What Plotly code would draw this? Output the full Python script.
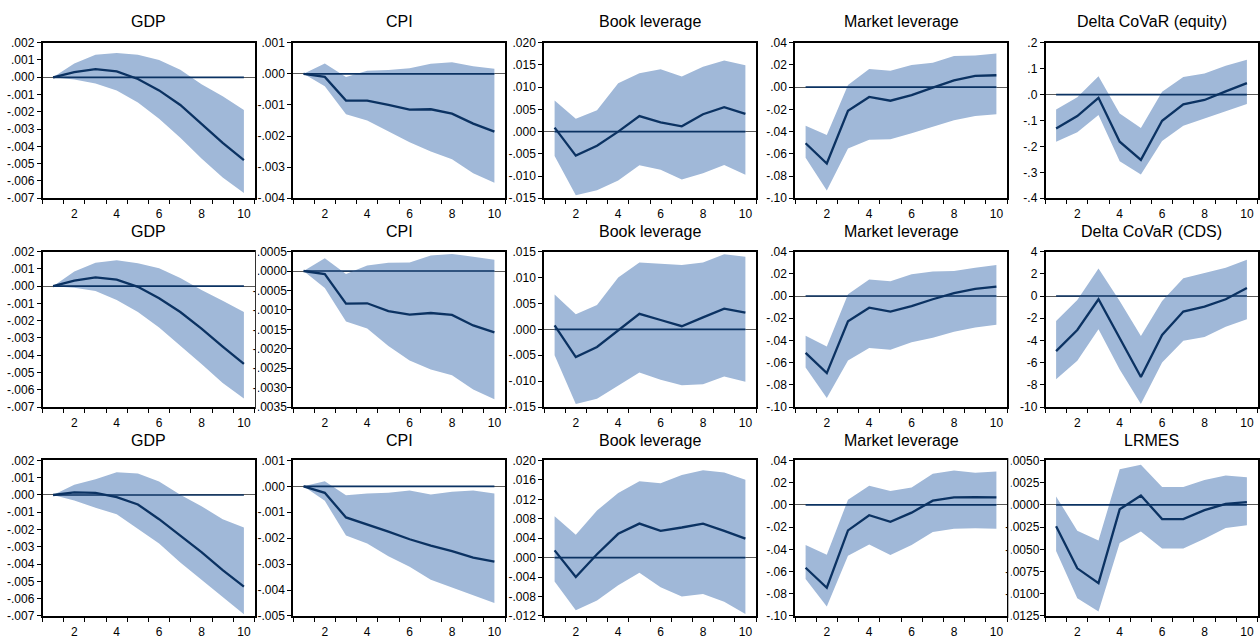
import plotly.graph_objects as go

# Forecast horizon (periods after the shock)
periods = list(range(1, 11))
baseline = [0.0] * len(periods)
x_tick_vals = [2, 4, 6, 8, 10]
x_tick_text = ["2", "4", "6", "8", "10"]
x_minor_vals = [0.5, 1.5, 2.5, 3.5, 4.5, 5.5, 6.5, 7.5, 8.5, 9.5, 10.5]

# ---- Row 1: Delta CoVaR (equity) system ----
gdp1_irf = [0.0, 0.0003, 0.00047, 0.00034, -0.0001, -0.00076, -0.0016, -0.0027, -0.0038, -0.0048]
gdp1_hi = [0.0, 0.0008, 0.0013, 0.0014, 0.0013, 0.0010, 0.00044, -0.0004, -0.0011, -0.0019]
gdp1_lo = [0.0, -0.00013, -0.00036, -0.00076, -0.00146, -0.0024, -0.0035, -0.0047, -0.0058, -0.0067]

cpi1_irf = [0.0, -0.0001, -0.00086, -0.00086, -0.0010, -0.00115, -0.00114, -0.00128, -0.0016, -0.00186]
cpi1_hi = [0.0, 0.00033, -0.0001, 0.0001, 0.00012, 0.00018, 0.00032, 0.00037, 0.00024, 0.00016]
cpi1_lo = [0.0, -0.0004, -0.0013, -0.0015, -0.00186, -0.0022, -0.0025, -0.00275, -0.0032, -0.0035]

book1_irf = [0.0009, -0.0054, -0.0032, 0.0, 0.0035, 0.0021, 0.0012, 0.0039, 0.0055, 0.0040]
book1_hi = [0.0070, 0.0029, 0.0048, 0.0109, 0.0131, 0.0140, 0.0124, 0.0146, 0.0160, 0.0149]
book1_lo = [-0.0055, -0.0143, -0.0132, -0.0110, -0.0076, -0.0086, -0.0108, -0.0094, -0.0075, -0.0097]

mkt1_irf = [-0.0505, -0.0687, -0.0213, -0.0088, -0.0122, -0.0072, -0.0004, 0.0060, 0.0101, 0.0107]
mkt1_hi = [-0.0348, -0.0430, 0.0019, 0.0163, 0.0148, 0.0200, 0.0220, 0.0280, 0.0284, 0.0304]
mkt1_lo = [-0.0636, -0.0930, -0.0553, -0.0474, -0.0468, -0.0416, -0.0360, -0.0298, -0.0260, -0.0245]

dcv_eq_irf = [-0.131, -0.083, -0.0125, -0.182, -0.252, -0.101, -0.038, -0.021, 0.0125, 0.044]
dcv_eq_hi = [-0.058, -0.010, 0.071, -0.073, -0.129, 0.011, 0.068, 0.081, 0.111, 0.134]
dcv_eq_lo = [-0.182, -0.145, -0.079, -0.257, -0.308, -0.179, -0.120, -0.091, -0.064, -0.036]

# ---- Row 2: Delta CoVaR (CDS) system ----
gdp2_irf = [0.0, 0.00032, 0.00051, 0.00038, -0.00004, -0.0007, -0.0015, -0.00246, -0.0035, -0.0045]
gdp2_hi = [0.0, 0.00085, 0.00136, 0.0015, 0.00133, 0.00104, 0.00047, -0.00023, -0.00085, -0.0015]
gdp2_lo = [0.0, -0.0001, -0.00028, -0.0008, -0.0015, -0.0024, -0.00345, -0.0045, -0.0056, -0.0065]

cpi2_irf = [0.0, -0.00008, -0.00084, -0.00083, -0.00103, -0.00112, -0.00108, -0.00113, -0.0014, -0.00158]
cpi2_hi = [0.0, 0.00033, -0.00008, 0.00014, 0.00021, 0.00022, 0.0004, 0.00044, 0.00037, 0.00029]
cpi2_lo = [0.0, -0.00044, -0.0013, -0.00148, -0.00193, -0.0023, -0.00253, -0.00268, -0.00305, -0.0033]

book2_irf = [0.00076, -0.00536, -0.0034, -0.0002, 0.0030, 0.0018, 0.0006, 0.0023, 0.0040, 0.0032]
book2_hi = [0.0067, 0.0029, 0.0047, 0.0100, 0.0129, 0.0127, 0.0124, 0.0129, 0.0145, 0.0140]
book2_lo = [-0.0050, -0.0144, -0.0134, -0.0109, -0.0083, -0.0097, -0.0108, -0.0106, -0.0091, -0.0101]

mkt2_irf = [-0.0512, -0.0694, -0.0228, -0.0105, -0.0140, -0.0091, -0.0029, 0.0026, 0.0064, 0.0085]
mkt2_hi = [-0.0357, -0.0454, 0.0015, 0.0149, 0.0132, 0.0196, 0.0220, 0.0225, 0.0255, 0.0278]
mkt2_lo = [-0.0644, -0.0917, -0.0580, -0.0469, -0.0483, -0.0416, -0.0375, -0.0322, -0.0284, -0.0258]

dcv_cds_irf = [-4.96, -3.06, -0.29, -3.79, -7.29, -3.5, -1.4, -0.96, -0.29, 0.73]
dcv_cds_hi = [-2.24, -0.35, 2.48, -0.44, -3.59, -0.44, 1.6, 2.1, 2.54, 3.27]
dcv_cds_lo = [-7.49, -5.83, -3.0, -6.62, -9.71, -5.98, -4.02, -3.7, -2.77, -2.1]

# ---- Row 3: LRMES system ----
gdp3_irf = [0.0, 0.00015, 0.00012, -0.00012, -0.00055, -0.0014, -0.00235, -0.0033, -0.00435, -0.0053]
gdp3_hi = [0.0, 0.00059, 0.00091, 0.00131, 0.00125, 0.00078, 0.00002, -0.00065, -0.0014, -0.00188]
gdp3_lo = [0.0, -0.00032, -0.00074, -0.00112, -0.00197, -0.0028, -0.0039, -0.0049, -0.0059, -0.0069]

cpi3_irf = [0.0, -0.00025, -0.0012, -0.00146, -0.00175, -0.00204, -0.00229, -0.0025, -0.00275, -0.0029]
cpi3_hi = [0.0, 0.0002, -0.00034, -0.00028, -0.00025, -0.00016, -0.00031, -0.00021, -0.00016, -0.00028]
cpi3_lo = [0.0, -0.00056, -0.0019, -0.0022, -0.0027, -0.0031, -0.0036, -0.0039, -0.0042, -0.0045]

book3_irf = [0.0015, -0.0040, 0.0007, 0.0049, 0.0070, 0.0055, 0.0062, 0.0070, 0.0055, 0.0039]
book3_hi = [0.0085, 0.0047, 0.0097, 0.0133, 0.0157, 0.0153, 0.0170, 0.0180, 0.0175, 0.0160]
book3_lo = [-0.0049, -0.0108, -0.0088, -0.0057, -0.0031, -0.0061, -0.0080, -0.0075, -0.0091, -0.0116]

mkt3_irf = [-0.0566, -0.0746, -0.0230, -0.0093, -0.0152, -0.0070, 0.0038, 0.0067, 0.0070, 0.0067]
mkt3_hi = [-0.0361, -0.0449, 0.0047, 0.0172, 0.0125, 0.0157, 0.0280, 0.0309, 0.0289, 0.0300]
mkt3_lo = [-0.0668, -0.0915, -0.0458, -0.0356, -0.0452, -0.0361, -0.0245, -0.0216, -0.0210, -0.0216]

lrmes_irf = [-0.0024, -0.00714, -0.0088, -0.0005, 0.00106, -0.0016, -0.0016, -0.0006, 0.0001, 0.0003]
lrmes_hi = [0.00095, -0.0029, -0.0040, 0.0040, 0.0045, 0.0020, 0.0020, 0.0028, 0.0033, 0.0031]
lrmes_lo = [-0.0052, -0.0105, -0.0120, -0.0043, -0.0030, -0.0049, -0.0049, -0.0038, -0.0026, -0.0023]

# ---- Y-axis ticks ----
gdp_yvals = [0.002, 0.001, 0.0, -0.001, -0.002, -0.003, -0.004, -0.005, -0.006, -0.007]
gdp_ytext = [".002", ".001", ".000", "-.001", "-.002", "-.003", "-.004", "-.005", "-.006", "-.007"]
cpi1_yvals = [0.001, 0.0, -0.001, -0.002, -0.003, -0.004]
cpi1_ytext = [".001", ".000", "-.001", "-.002", "-.003", "-.004"]
cpi2_yvals = [0.0005, 0.0, -0.0005, -0.001, -0.0015, -0.002, -0.0025, -0.003, -0.0035]
cpi2_ytext = [".0005", ".0000", "-.0005", "-.0010", "-.0015", "-.0020", "-.0025", "-.0030", "-.0035"]
cpi3_yvals = [0.001, 0.0, -0.001, -0.002, -0.003, -0.004, -0.005]
cpi3_ytext = [".001", ".000", "-.001", "-.002", "-.003", "-.004", "-.005"]
book1_yvals = [0.02, 0.015, 0.01, 0.005, 0.0, -0.005, -0.01, -0.015]
book1_ytext = [".020", ".015", ".010", ".005", ".000", "-.005", "-.010", "-.015"]
book2_yvals = [0.015, 0.01, 0.005, 0.0, -0.005, -0.01, -0.015]
book2_ytext = [".015", ".010", ".005", ".000", "-.005", "-.010", "-.015"]
book3_yvals = [0.02, 0.016, 0.012, 0.008, 0.004, 0.0, -0.004, -0.008, -0.012]
book3_ytext = [".020", ".016", ".012", ".008", ".004", ".000", "-.004", "-.008", "-.012"]
mkt_yvals = [0.04, 0.02, 0.0, -0.02, -0.04, -0.06, -0.08, -0.10]
mkt_ytext = [".04", ".02", ".00", "-.02", "-.04", "-.06", "-.08", "-.10"]
dcv_eq_yvals = [0.2, 0.1, 0.0, -0.1, -0.2, -0.3, -0.4]
dcv_eq_ytext = [".2", ".1", ".0", "-.1", "-.2", "-.3", "-.4"]
dcv_cds_yvals = [4, 2, 0, -2, -4, -6, -8, -10]
dcv_cds_ytext = ["4", "2", "0", "-2", "-4", "-6", "-8", "-10"]
lrmes_yvals = [0.005, 0.0025, 0.0, -0.0025, -0.005, -0.0075, -0.01, -0.0125]
lrmes_ytext = [".0050", ".0025", ".0000", "-.0025", "-.0050", "-.0075", "-.0100", "-.0125"]

panels = [
    (1, 1, "GDP", gdp1_irf, gdp1_lo, gdp1_hi, gdp_yvals, gdp_ytext),
    (1, 2, "CPI", cpi1_irf, cpi1_lo, cpi1_hi, cpi1_yvals, cpi1_ytext),
    (1, 3, "Book leverage", book1_irf, book1_lo, book1_hi, book1_yvals, book1_ytext),
    (1, 4, "Market leverage", mkt1_irf, mkt1_lo, mkt1_hi, mkt_yvals, mkt_ytext),
    (1, 5, "Delta CoVaR (equity)", dcv_eq_irf, dcv_eq_lo, dcv_eq_hi, dcv_eq_yvals, dcv_eq_ytext),
    (2, 1, "GDP", gdp2_irf, gdp2_lo, gdp2_hi, gdp_yvals, gdp_ytext),
    (2, 2, "CPI", cpi2_irf, cpi2_lo, cpi2_hi, cpi2_yvals, cpi2_ytext),
    (2, 3, "Book leverage", book2_irf, book2_lo, book2_hi, book2_yvals, book2_ytext),
    (2, 4, "Market leverage", mkt2_irf, mkt2_lo, mkt2_hi, mkt_yvals, mkt_ytext),
    (2, 5, "Delta CoVaR (CDS)", dcv_cds_irf, dcv_cds_lo, dcv_cds_hi, dcv_cds_yvals, dcv_cds_ytext),
    (3, 1, "GDP", gdp3_irf, gdp3_lo, gdp3_hi, gdp_yvals, gdp_ytext),
    (3, 2, "CPI", cpi3_irf, cpi3_lo, cpi3_hi, cpi3_yvals, cpi3_ytext),
    (3, 3, "Book leverage", book3_irf, book3_lo, book3_hi, book3_yvals, book3_ytext),
    (3, 4, "Market leverage", mkt3_irf, mkt3_lo, mkt3_hi, mkt_yvals, mkt_ytext),
    (3, 5, "LRMES", lrmes_irf, lrmes_lo, lrmes_hi, lrmes_yvals, lrmes_ytext),
]

# ---- Styling / geometry (pixels in a 1260 x 644 page) ----
W, H = 1260, 644
BAND = "#A0B8D8"
LINE = "#0B3262"
FONT = "Liberation Sans, Arial, Helvetica, sans-serif"
col_left = [42.5, 293.0, 544.0, 795.0, 1045.5]
plot_w = 212.0
row_top = [36.5, 250.0, 463.5]
plot_h = 159.0
title_y = [15.0, 229.0, 443.0]
# panels whose long labels run into the neighbouring graph's box
wide_label_panels = {(2, 2), (3, 5)}

fig = go.Figure()
layout_axes = {}
annotations = []

for row, col, title, irf, lo, hi, yvals, ytext in panels:
    k = (row - 1) * 5 + col
    xa = "x" if k == 1 else f"x{k}"
    ya = "y" if k == 1 else f"y{k}"

    # confidence band, zero reference series, impulse response
    fig.add_trace(go.Scatter(
        x=periods + periods[::-1], y=hi + lo[::-1],
        fill="toself", fillcolor=BAND, line=dict(width=0),
        mode="lines", hoverinfo="skip", showlegend=False,
        xaxis=xa, yaxis=ya))
    fig.add_trace(go.Scatter(
        x=periods, y=baseline, mode="lines",
        line=dict(color=LINE, width=1.7), hoverinfo="skip",
        showlegend=False, xaxis=xa, yaxis=ya))
    fig.add_trace(go.Scatter(
        x=periods, y=irf, mode="lines",
        line=dict(color=LINE, width=2.3), showlegend=False,
        xaxis=xa, yaxis=ya))

    x0 = col_left[col - 1] / W
    x1 = (col_left[col - 1] + plot_w) / W
    y1 = 1 - row_top[row - 1] / H
    y0 = 1 - (row_top[row - 1] + plot_h) / H

    xkey = "xaxis" if k == 1 else f"xaxis{k}"
    ykey = "yaxis" if k == 1 else f"yaxis{k}"
    layout_axes[xkey] = dict(
        domain=[x0, x1], anchor=ya, range=[0.5, 10.5],
        tickmode="array", tickvals=x_tick_vals, ticktext=x_tick_text,
        ticks="outside", ticklen=4, tickcolor="rgba(0,0,0,0)",
        minor=dict(tickmode="array", tickvals=x_minor_vals, ticks="outside",
                   ticklen=4, tickwidth=1, tickcolor="black", showgrid=False),
        showline=True, mirror=True, linecolor="black", linewidth=1.5,
        showgrid=False, zeroline=False, fixedrange=True,
        tickfont=dict(size=12, color="black", family=FONT))
    layout_axes[ykey] = dict(
        domain=[y0, y1], anchor=xa, range=[min(yvals), max(yvals)],
        tickmode="array", tickvals=yvals, ticktext=ytext,
        ticks="outside", ticklen=4, tickwidth=1, tickcolor="black",
        ticklabelstandoff=-2 if (row, col) in wide_label_panels else 0,
        showline=True, mirror=True, linecolor="black", linewidth=1.5,
        showgrid=False, zeroline=True, zerolinecolor="#5a5a5a", zerolinewidth=1,
        fixedrange=True,
        tickfont=dict(size=12, color="black", family=FONT))

    annotations.append(dict(
        text=title, x=(x0 + x1) / 2, y=1 - title_y[row - 1] / H,
        xref="paper", yref="paper", xanchor="center", yanchor="middle",
        showarrow=False, font=dict(size=16, color="black", family=FONT)))

# Each graph is clipped to its own box: mask label overflow just past the neighbour's frame
clip_boxes = [
    (255.8, 257.8, 240.0, 420.0),
    (1008.3, 1010.8, 455.0, 634.0),
]
shapes = [
    dict(type="rect", xref="paper", yref="paper", layer="above",
         x0=a / W, x1=b / W, y0=1 - d / H, y1=1 - c / H,
         fillcolor="white", line=dict(width=0))
    for a, b, c, d in clip_boxes
]

fig.update_layout(
    width=W, height=H,
    margin=dict(l=0, r=0, t=0, b=0),
    paper_bgcolor="white", plot_bgcolor="white",
    font=dict(family=FONT, color="black"),
    annotations=annotations, shapes=shapes,
    showlegend=False,
    **layout_axes,
)

fig.write_html("out.html", config={"displayModeBar": False})
